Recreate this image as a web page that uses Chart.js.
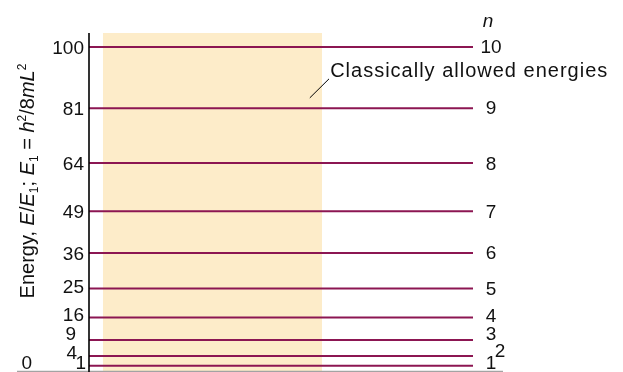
<!DOCTYPE html>
<html>
<head>
<meta charset="utf-8">
<script src="https://cdn.jsdelivr.net/npm/chart.js@4"></script>
<style>
  html, body { margin: 0; padding: 0; background: #fff; }
</style>
</head>
<body>
<canvas id="grafico" width="623" height="372"></canvas>
<script>
// niveis de energia E/E1 e numero quantico n
var energias = [1, 4, 9, 16, 25, 36, 49, 64, 81, 100];
var niveisN = ['1', '2', '3', '4', '5', '6', '7', '8', '9', '10'];
var ticksY = [0, 1, 4, 9, 16, 25, 36, 49, 64, 81, 100];
var ticksYLabels = ['0', '1', '4', '9', '16', '25', '36', '49', '64', '81', '100'];
// faixa classicamente permitida (x de 0 a 1)
var faixaX = [0.036, 0.607];
var anotacao = 'Classically allowed energies';

var yMin = -0.8, yMax = 104.35;

// deslocamentos em pixels dos rotulos que se sobrepoem
var desvioEsq = { '0': [-52, -7], '1': [2, -4], '4': [-7, -4], '9': [-8, -6.5], '16': [0, -3.5], '25': [0, -2] };
var desvioDir = { '10': [0, -1.5], '9': [0, -1], '6': [0, -1], '4': [0, -2.5], '3': [0, -7], '2': [9, -6.5], '1': [0, -4] };

var corLinha = '#8c1652';
var fonte = '"Liberation Sans", Arial, sans-serif';

var datasets = energias.map(function(e) {
  return {
    data: [{ x: 0, y: e }, { x: 1, y: e }],
    borderColor: corLinha,
    borderWidth: 2,
    pointRadius: 0,
    fill: false,
    order: 0
  };
});
datasets.push({
  data: [{ x: faixaX[0], y: yMax }, { x: faixaX[1], y: yMax }],
  borderWidth: 0,
  borderColor: 'rgba(0,0,0,0)',
  backgroundColor: 'rgb(253,236,201)',
  pointRadius: 0,
  fill: 'start',
  order: 1
});

function textoRico(ctx, partes, x, y, tam) {
  // mede e desenha partes com italico / indices
  function fonteDe(p) {
    var t = (p.sub || p.sup) ? tam * 0.6 : tam;
    return (p.it ? 'italic ' : '') + t + 'px ' + fonte;
  }
  var total = 0;
  partes.forEach(function(p) { ctx.font = fonteDe(p); total += ctx.measureText(p.t).width; });
  var cx = x - total / 2;
  partes.forEach(function(p) {
    ctx.font = fonteDe(p);
    var dy = p.sub ? tam * 0.22 : (p.sup ? -tam * 0.42 : 0);
    ctx.fillText(p.t, cx, y + dy);
    cx += ctx.measureText(p.t).width;
  });
}

var rotulos = {
  id: 'rotulos',
  afterDraw: function(chart) {
    var ctx = chart.ctx;
    var ys = chart.scales.y, xs = chart.scales.x;
    var area = chart.chartArea;
    ctx.save();

    // linha de base cinza
    ctx.strokeStyle = '#a3a3a3';
    ctx.lineWidth = 1.5;
    ctx.beginPath();
    ctx.moveTo(area.left - 72, ys.getPixelForValue(yMin));
    ctx.lineTo(area.right + 30, ys.getPixelForValue(yMin));
    ctx.stroke();

    // eixo vertical
    ctx.strokeStyle = '#000';
    ctx.lineWidth = 1.6;
    ctx.beginPath();
    ctx.moveTo(area.left, area.top);
    ctx.lineTo(area.left, chart.height);
    ctx.stroke();

    ctx.fillStyle = '#111';
    ctx.font = '19px ' + fonte;
    ctx.textBaseline = 'alphabetic';

    // rotulos do eixo y
    ctx.textAlign = 'right';
    ticksY.forEach(function(v, i) {
      var lab = ticksYLabels[i];
      var d = desvioEsq[lab] || [0, 0];
      ctx.fillText(lab, area.left - 5 + d[0], ys.getPixelForValue(v) + 7 + d[1]);
    });

    // numeros quanticos a direita
    ctx.textAlign = 'center';
    energias.forEach(function(e, i) {
      var lab = niveisN[i];
      var d = desvioDir[lab] || [0, 0];
      ctx.fillText(lab, area.right + 18 + d[0], ys.getPixelForValue(e) + 7 + d[1]);
    });
    ctx.font = 'italic 19px ' + fonte;
    ctx.fillText('n', area.right + 15, area.top - 6);

    // anotacao
    ctx.strokeStyle = '#000';
    ctx.lineWidth = 1;
    ctx.beginPath();
    ctx.moveTo(xs.getPixelForValue(0.575), ys.getPixelForValue(84.2));
    ctx.lineTo(xs.getPixelForValue(0.625), ys.getPixelForValue(90.1));
    ctx.stroke();
    ctx.textAlign = 'left';
    ctx.font = '20px ' + fonte;
    if ('letterSpacing' in ctx) ctx.letterSpacing = '1px';
    ctx.fillText(anotacao, xs.getPixelForValue(0.628), ys.getPixelForValue(92.8) + 7);
    if ('letterSpacing' in ctx) ctx.letterSpacing = '0px';

    // titulo do eixo y
    ctx.translate(34, 181);
    ctx.rotate(-Math.PI / 2);
    ctx.textAlign = 'left';
    textoRico(ctx, [
      { t: 'Energy, ' }, { t: 'E', it: true }, { t: '/' }, { t: 'E', it: true }, { t: '1', sub: true },
      { t: '; ' }, { t: 'E', it: true }, { t: '1', sub: true }, { t: ' = ' },
      { t: 'h', it: true }, { t: '2', sup: true }, { t: '/8' }, { t: 'mL', it: true }, { t: '2', sup: true }
    ], 0, 0, 20);
    ctx.restore();
  }
};

new Chart(document.getElementById('grafico'), {
  type: 'line',
  data: { datasets: datasets },
  options: {
    responsive: false,
    animation: false,
    layout: { padding: { left: 89, right: 150, top: 33, bottom: 0.5 } },
    scales: {
      x: { type: 'linear', min: 0, max: 1, display: false },
      y: { type: 'linear', min: yMin, max: yMax, display: false }
    },
    plugins: { legend: { display: false }, tooltip: { enabled: false } }
  },
  plugins: [rotulos]
});
</script>
</body>
</html>
